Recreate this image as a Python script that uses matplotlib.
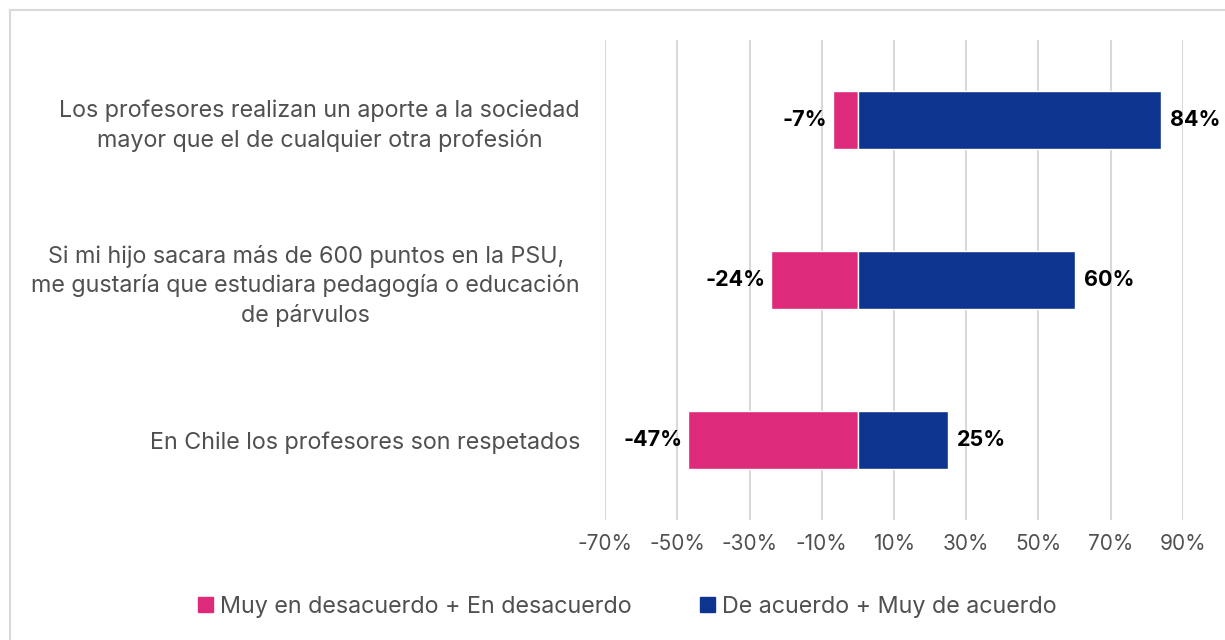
import matplotlib.pyplot as plt
from matplotlib.lines import Line2D
from matplotlib.patches import Patch

# categories (top to bottom) and values in %
categorias = [
    "Los profesores realizan un aporte a la sociedad\nmayor que el de cualquier otra profesión",
    "Si mi hijo sacara más de 600 puntos en la PSU,\nme gustaría que estudiara pedagogía o educación\nde párvulos",
    "En Chile los profesores son respetados",
]
desacuerdo = [-7, -24, -47]
acuerdo = [84, 60, 25]
series = ["Muy en desacuerdo + En desacuerdo", "De acuerdo + Muy de acuerdo"]
ticks = [-70, -50, -30, -10, 10, 30, 50, 70, 90]

rosa = "#DE2A7B"
azul = "#0D358F"
gris_txt = "#505050"

plt.rcParams['font.family'] = ['Inter', 'DejaVu Sans']

fig = plt.figure(figsize=(12.25, 6.4), dpi=100)
ax = fig.add_axes([0.4939, 0.1875, 0.4718, 0.75])

y = list(range(len(categorias)))
ax.barh(y, desacuerdo, height=0.36, color=rosa, edgecolor="white", linewidth=1, zorder=3)
ax.barh(y, acuerdo, height=0.36, color=azul, edgecolor="white", linewidth=1, zorder=3)

for i in y:
    ax.text(desacuerdo[i] - 1.5, i, f"{desacuerdo[i]}%", ha="right", va="center",
            fontsize=15.5, fontweight="bold", color="black")
    ax.text(acuerdo[i] + 2.5, i, f"{acuerdo[i]}%", ha="left", va="center",
            fontsize=15.5, fontweight="bold", color="black")

ax.set_xlim(-70, 90)
ax.set_ylim(len(categorias) - 0.5, -0.5)
ax.set_xticks(ticks)
ax.set_xticklabels([f"{t}%" for t in ticks], fontsize=15, color=gris_txt)
ax.set_yticks(y)
ax.set_yticklabels(categorias, fontsize=16.8, color=gris_txt, linespacing=1.38)
for lab in ax.get_yticklabels():
    lab.set_multialignment("center")
ax.tick_params(axis="y", length=0, pad=18)
ax.tick_params(axis="x", length=0, pad=10)
ax.grid(axis="x", color="#D9D9D9", linewidth=1.5, zorder=0)
for s in ax.spines.values():
    s.set_visible(False)

handles = [Patch(color=rosa), Patch(color=azul)]
fig.legend(handles, series, loc="center", bbox_to_anchor=(0.512, 0.052), ncol=2,
           frameon=False, fontsize=16.8, handlelength=0.65, handleheight=0.65,
           handletextpad=0.3, columnspacing=2.9, labelcolor=gris_txt)

# outer frame (top and left edges visible)
fig.add_artist(Line2D([0.008, 1.0], [0.984, 0.984], color="#D9D9D9", linewidth=1.5))
fig.add_artist(Line2D([0.008, 0.008], [0.0, 0.984], color="#D9D9D9", linewidth=1.5))

fig.savefig("out.png", dpi=100)
